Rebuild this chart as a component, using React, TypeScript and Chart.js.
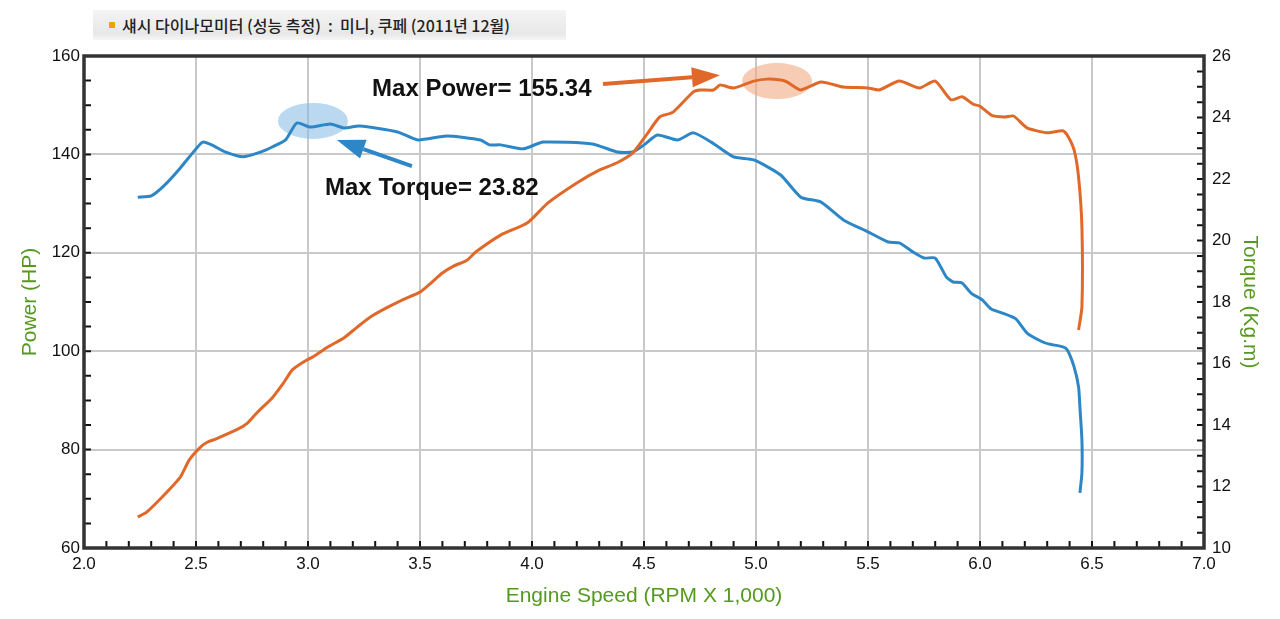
import { useEffect, useRef } from "react";
import { Chart, registerables } from "chart.js";

Chart.register(...registerables);

// dyno readings
const powerRpm = [
  2.24, 2.28, 2.35, 2.43, 2.47, 2.52, 2.55, 2.59, 2.68, 2.73, 2.77, 2.84, 2.89, 2.93, 2.98, 3.02,
  3.09, 3.16, 3.22, 3.28, 3.35, 3.42, 3.5, 3.55, 3.6, 3.65, 3.71, 3.75, 3.86, 3.98, 4.07, 4.2,
  4.3, 4.38, 4.45, 4.51, 4.57, 4.63, 4.72, 4.75, 4.81, 4.84, 4.9, 4.99, 5.05, 5.11, 5.14, 5.2,
  5.29, 5.39, 5.5, 5.55, 5.64, 5.73, 5.8, 5.87, 5.92, 5.97, 6.0, 6.05, 6.11, 6.15, 6.21, 6.3,
  6.37, 6.39, 6.42, 6.44, 6.455, 6.455, 6.44,
];
const powerHp = [
  66.3, 67.3, 70.4, 74.4, 77.9, 80.5, 81.5, 82.2, 84.0, 85.4, 87.4, 90.5, 93.5, 96.2, 97.8, 98.8,
  100.9, 102.7, 104.9, 107.0, 108.8, 110.4, 112.0, 113.9, 115.9, 117.3, 118.5, 120.2, 123.6, 126.1, 130.1, 134.2,
  136.8, 138.3, 140.3, 143.9, 147.6, 148.6, 152.7, 153.1, 153.1, 154.1, 153.5, 154.9, 155.3, 155.1, 154.7, 153.1,
  154.7, 153.7, 153.5, 153.1, 154.9, 153.5, 154.9, 151.1, 151.7, 150.2, 149.8, 148.0, 147.6, 147.8, 145.4, 144.4,
  144.8, 143.9, 140.9, 135.4, 125.2, 109.0, 104.3,
];

const torqueRpm = [
  2.24, 2.3, 2.36, 2.43, 2.5, 2.53, 2.57, 2.63, 2.71, 2.79, 2.84, 2.9, 2.95, 3.01, 3.1, 3.16,
  3.23, 3.4, 3.49, 3.62, 3.77, 3.81, 3.86, 3.96, 4.05, 4.27, 4.38, 4.45, 4.5, 4.56, 4.65, 4.72,
  4.8, 4.9, 4.99, 5.11, 5.2, 5.29, 5.39, 5.5, 5.59, 5.64, 5.7, 5.75, 5.8, 5.85, 5.88, 5.92,
  5.96, 6.01, 6.05, 6.1, 6.16, 6.21, 6.28, 6.31, 6.37, 6.39, 6.42, 6.44, 6.446, 6.455, 6.455, 6.446,
];
const torqueKgm = [
  21.41, 21.45, 21.8, 22.36, 22.98, 23.2, 23.11, 22.88, 22.72, 22.88, 23.04, 23.27, 23.82, 23.69, 23.79, 23.66,
  23.72, 23.53, 23.27, 23.4, 23.27, 23.11, 23.11, 22.98, 23.2, 23.14, 22.88, 22.88, 23.11, 23.43, 23.27, 23.5,
  23.2, 22.72, 22.62, 22.13, 21.41, 21.25, 20.67, 20.28, 19.95, 19.92, 19.63, 19.43, 19.43, 18.81, 18.65, 18.62,
  18.29, 18.07, 17.77, 17.64, 17.45, 16.99, 16.7, 16.63, 16.54, 16.44, 15.89, 15.24, 14.59, 13.51, 12.44, 11.79,
];

const maxPower = 155.34;
const maxTorque = 23.82;

const ORANGE = "#e0692a";
const BLUE = "#2d87c6";
const GREEN = "#56991f";
const FONT = "'Liberation Sans', Arial, sans-serif";

const toXY = (xs: number[], ys: number[]) => xs.map((x, i) => ({ x, y: ys[i] }));

function arrow(ctx: CanvasRenderingContext2D, x1: number, y1: number, x2: number, y2: number, color: string) {
  const a = Math.atan2(y2 - y1, x2 - x1);
  const head = 28;
  const half = 10;
  const bx = x2 - head * Math.cos(a);
  const by = y2 - head * Math.sin(a);
  ctx.strokeStyle = color;
  ctx.fillStyle = color;
  ctx.lineWidth = 4;
  ctx.beginPath();
  ctx.moveTo(x1, y1);
  ctx.lineTo(bx, by);
  ctx.stroke();
  ctx.beginPath();
  ctx.moveTo(x2, y2);
  ctx.lineTo(bx + half * Math.sin(a), by - half * Math.cos(a));
  ctx.lineTo(bx - half * Math.sin(a), by + half * Math.cos(a));
  ctx.closePath();
  ctx.fill();
}

// ellipses behind the peaks
const highlights = {
  id: "highlights",
  beforeDatasetsDraw(chart: any) {
    const { ctx, scales } = chart;
    const { x, y, y1 } = scales;
    ctx.save();
    ctx.fillStyle = "rgba(240, 170, 130, 0.6)";
    ctx.beginPath();
    ctx.ellipse(x.getPixelForValue(5.094), y.getPixelForValue(154.9), 35, 18, 0, 0, Math.PI * 2);
    ctx.fill();
    ctx.fillStyle = "rgba(130, 185, 228, 0.55)";
    ctx.beginPath();
    ctx.ellipse(x.getPixelForValue(3.022), y1.getPixelForValue(23.89), 35, 18, 0, 0, Math.PI * 2);
    ctx.fill();
    ctx.restore();
  },
};

// frame, inner minor ticks, arrows and labels
const decorations = {
  id: "decorations",
  afterDraw(chart: any) {
    const { ctx, chartArea: a, scales } = chart;
    const { x, y, y1 } = scales;
    ctx.save();

    ctx.strokeStyle = "#111";
    ctx.lineWidth = 2;
    ctx.beginPath();
    for (let i = 0; i <= 50; i++) {
      const px = x.getPixelForValue(2 + i / 10);
      ctx.moveTo(px, a.bottom);
      ctx.lineTo(px, a.bottom - 7);
    }
    for (let i = 0; i <= 20; i++) {
      const py = y.getPixelForValue(60 + i * 5);
      ctx.moveTo(a.left, py);
      ctx.lineTo(a.left + 7, py);
    }
    for (let i = 0; i <= 32; i++) {
      const py = y1.getPixelForValue(10 + i * 0.5);
      ctx.moveTo(a.right, py);
      ctx.lineTo(a.right - 7, py);
    }
    ctx.stroke();

    ctx.strokeStyle = "#333";
    ctx.lineWidth = 3.5;
    ctx.strokeRect(a.left, a.top, a.right - a.left, a.bottom - a.top);

    arrow(ctx, x.getPixelForValue(4.317), y.getPixelForValue(154.3), x.getPixelForValue(4.839), y.getPixelForValue(156.1), ORANGE);
    arrow(ctx, x.getPixelForValue(3.464), y1.getPixelForValue(22.42), x.getPixelForValue(3.129), y1.getPixelForValue(23.27), BLUE);

    ctx.fillStyle = "#111";
    ctx.font = `bold 24px ${FONT}`;
    ctx.textBaseline = "middle";
    ctx.textAlign = "left";
    ctx.fillText(`Max Power= ${maxPower.toFixed(2)}`, x.getPixelForValue(3.286), y.getPixelForValue(153.3));
    ctx.fillText(`Max Torque= ${maxTorque.toFixed(2)}`, x.getPixelForValue(3.076), y1.getPixelForValue(21.71));
    ctx.restore();
  },
};

const DynoChart = () => {
  const chartRef = useRef<HTMLCanvasElement | null>(null);

  useEffect(() => {
    document.body.style.margin = "0";
    if (!chartRef.current) return;
    const ctx = chartRef.current.getContext("2d");
    if (!ctx) return;

    const tickFont = { family: FONT, size: 17 };
    const titleFont = { family: FONT, size: 21 };

    const chart = new Chart(ctx, {
      type: "line",
      data: {
        datasets: [
          {
            label: "Power (HP)",
            data: toXY(powerRpm, powerHp),
            borderColor: ORANGE,
            borderWidth: 3,
            pointRadius: 0,
            tension: 0.2,
            yAxisID: "y",
          },
          {
            label: "Torque (Kg.m)",
            data: toXY(torqueRpm, torqueKgm),
            borderColor: BLUE,
            borderWidth: 3,
            pointRadius: 0,
            tension: 0.2,
            yAxisID: "y1",
          },
        ],
      },
      options: {
        animation: false,
        responsive: false,
        layout: { padding: { top: 56, left: 0, right: 0, bottom: 0 } },
        plugins: { legend: { display: false }, tooltip: { enabled: false } },
        scales: {
          x: {
            type: "linear",
            min: 2,
            max: 7,
            afterFit: (s: any) => {
              s.height = 71;
            },
            ticks: {
              stepSize: 0.5,
              padding: 6,
              color: "#111",
              font: tickFont,
              callback: (v: any) => Number(v).toFixed(1),
            },
            grid: { color: "#c9c9c9", lineWidth: 2, drawTicks: false },
            border: { display: false },
            title: {
              display: true,
              text: "Engine Speed (RPM X 1,000)",
              color: GREEN,
              font: titleFont,
              padding: { top: 0, bottom: 10 },
            },
          },
          y: {
            position: "left",
            min: 60,
            max: 160,
            afterFit: (s: any) => {
              s.width = 84;
            },
            ticks: { stepSize: 20, padding: 4, color: "#111", font: tickFont },
            grid: { color: "#c9c9c9", lineWidth: 2, drawTicks: false },
            border: { display: false },
            title: {
              display: true,
              text: "Power (HP)",
              color: GREEN,
              font: titleFont,
              padding: { top: 18, bottom: 0 },
            },
          },
          y1: {
            position: "right",
            min: 10,
            max: 26,
            afterFit: (s: any) => {
              s.width = 76;
            },
            ticks: { stepSize: 2, padding: 8, color: "#111", font: tickFont },
            grid: { display: false, drawTicks: false },
            border: { display: false },
            title: {
              display: true,
              text: "Torque (Kg.m)",
              color: GREEN,
              font: titleFont,
              padding: { top: 18, bottom: 0 },
            },
          },
        },
      },
      plugins: [highlights, decorations],
    });

    return () => {
      chart.destroy();
    };
  }, []);

  return (
    <div style={{ position: "absolute", left: 0, top: 0, width: 1280, height: 619, background: "#fff" }}>
      <canvas ref={chartRef} width={1280} height={619} style={{ position: "absolute", left: 0, top: 0 }} />
      <div
        style={{
          position: "absolute",
          left: 93,
          top: 10,
          width: 473,
          height: 30,
          background: "linear-gradient(to bottom, #f4f4f4, #e8e8e8 80%, #f6f6f6)",
          display: "flex",
          alignItems: "center",
          fontFamily: "'Noto Sans CJK KR', sans-serif",
          fontSize: 16,
          fontWeight: 500,
          color: "#222",
          whiteSpace: "pre",
        }}
      >
        <span style={{ width: 6, height: 6, background: "#f0a400", marginLeft: 16, marginRight: 7 }} />
        섀시 다이나모미터 (성능 측정)  :  미니, 쿠페 (2011년 12월)
      </div>
    </div>
  );
};

export default function App() {
  return <DynoChart />;
}
